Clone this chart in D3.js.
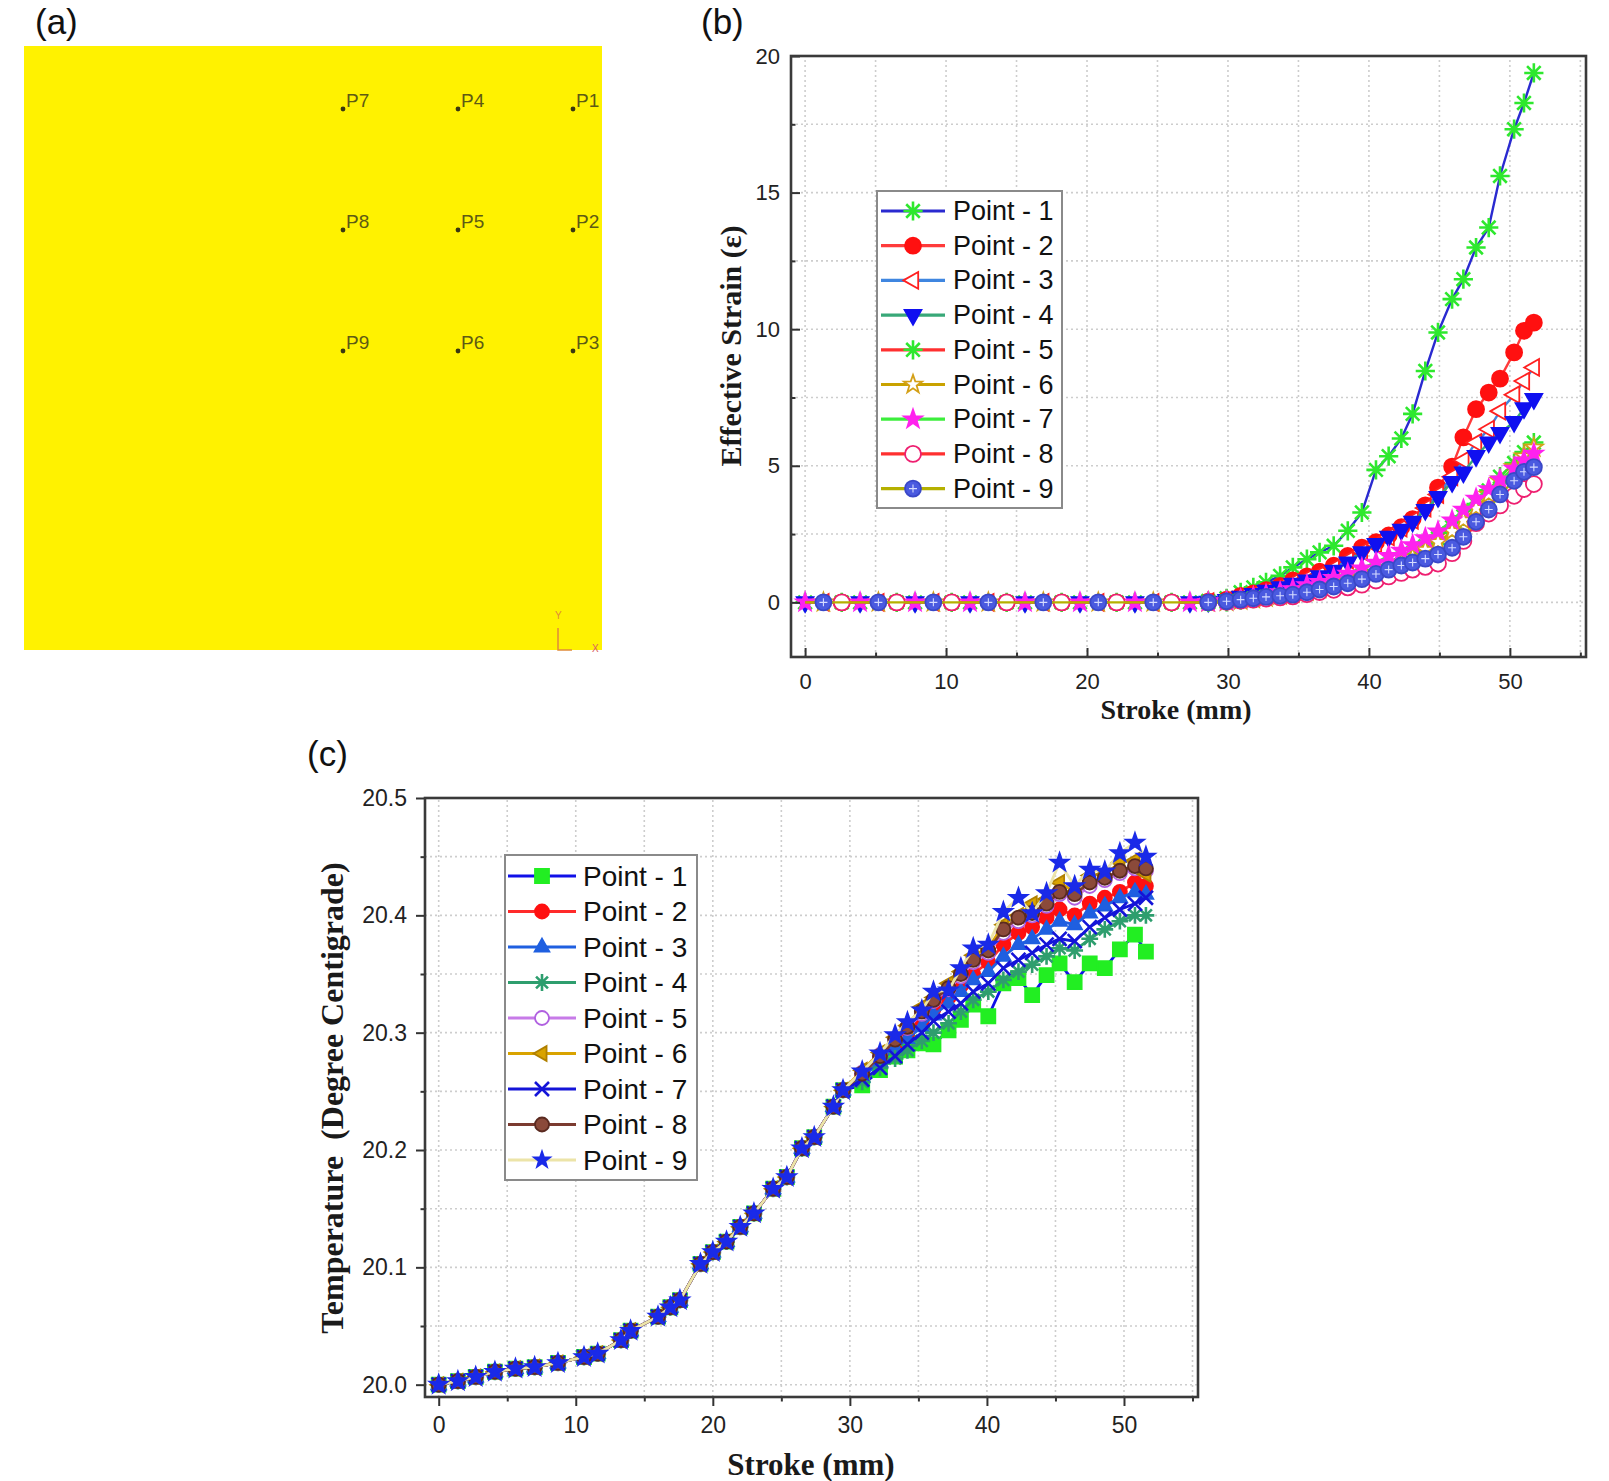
<!DOCTYPE html>
<html>
<head>
<meta charset="utf-8">
<script src="https://cdn.jsdelivr.net/npm/d3@7"></script>
<style>
  body { margin: 0; background: #fff; }
  svg { display: block; }
  .tick text { font-family: "Liberation Sans", Arial, sans-serif; fill: #222; }
  .axt { font-family: "Liberation Serif", "Times New Roman", serif; font-weight: bold; fill: #1a1a1a; white-space: pre; }
  .lab { font-family: "Liberation Sans", Arial, sans-serif; fill: #111; }
  .leg { font-family: "Liberation Sans", Arial, sans-serif; fill: #111; }
</style>
</head>
<body>
<svg id="fig" width="1609" height="1481"></svg>
<script>
// ---------- datos ----------
const nombres = ['Point - 1', 'Point - 2', 'Point - 3', 'Point - 4', 'Point - 5',
                 'Point - 6', 'Point - 7', 'Point - 8', 'Point - 9'];

// panel (a): etiquetas de los puntos por columna
const columnasA = [['P7', 'P8', 'P9'], ['P4', 'P5', 'P6'], ['P1', 'P2', 'P3']];

// panel (b): Effective Strain vs Stroke
const strokeB = [0, 1.3, 2.6, 3.9, 5.2, 6.5, 7.8, 9.1, 10.4, 11.7, 13.0, 14.3, 15.6, 16.9, 18.2, 19.5,
                 20.8, 22.1, 23.4, 24.7, 26.0, 27.3, 28.6, 29.9, 30.9, 31.8, 32.7, 33.7, 34.6, 35.6,
                 36.5, 37.5, 38.5, 39.5, 40.5, 41.4, 42.3, 43.1, 44.0, 44.9, 45.9, 46.7, 47.6, 48.5,
                 49.3, 50.3, 51.0, 51.7];
const strainPlano = [0, 0, 0, 0, 0, 0, 0, 0, 0, 0, 0, 0, 0, 0, 0, 0, 0, 0, 0, 0, 0, 0];
const strainP1 = strainPlano.concat([0.05, 0.15, 0.37, 0.55, 0.73, 0.97, 1.28, 1.58, 1.83, 2.07, 2.62, 3.29,
  4.85, 5.35, 6.0, 6.9, 8.47, 9.88, 11.1, 11.83, 12.99, 13.72, 15.61, 17.32, 18.28, 19.38]);
const strainP2 = strainPlano.concat([0.03, 0.1, 0.24, 0.33, 0.45, 0.6, 0.8, 0.95, 1.12, 1.34, 1.7, 2.0,
  2.2, 2.45, 2.75, 3.05, 3.55, 4.2, 4.97, 6.04, 7.07, 7.68, 8.19, 9.15, 9.94, 10.24]);
const strainP3 = strainPlano.concat([0.02, 0.08, 0.2, 0.3, 0.42, 0.56, 0.72, 0.88, 1.02, 1.25, 1.55, 1.85,
  2.12, 2.4, 2.72, 3.0, 3.45, 3.95, 4.6, 5.2, 5.85, 6.34, 7.0, 7.6, 8.1, 8.6]);
const strainP4 = strainPlano.concat([0.02, 0.08, 0.2, 0.3, 0.42, 0.55, 0.68, 0.8, 0.95, 1.15, 1.46, 1.83,
  2.13, 2.4, 2.65, 2.95, 3.38, 3.85, 4.4, 4.75, 5.35, 5.85, 6.2, 6.6, 7.1, 7.44]);
const strainP5 = strainPlano.concat([0, 0.02, 0.08, 0.14, 0.2, 0.28, 0.36, 0.45, 0.55, 0.68, 0.82, 0.98,
  1.15, 1.35, 1.55, 1.78, 2.05, 2.35, 2.75, 3.15, 3.6, 4.1, 4.6, 5.1, 5.5, 5.85]);
const strainP6 = strainPlano.concat([0, 0.02, 0.07, 0.12, 0.18, 0.25, 0.32, 0.4, 0.5, 0.62, 0.75, 0.9,
  1.05, 1.25, 1.45, 1.65, 1.92, 2.2, 2.6, 3.0, 3.45, 3.95, 4.45, 4.95, 5.35, 5.67]);
const strainP7 = strainPlano.concat([0.01, 0.05, 0.12, 0.2, 0.28, 0.38, 0.49, 0.63, 0.75, 0.9, 1.05, 1.25,
  1.46, 1.7, 1.9, 2.1, 2.35, 2.6, 3.0, 3.4, 3.8, 4.15, 4.5, 4.9, 5.2, 5.45]);
const strainP8 = strainPlano.concat([0, 0.02, 0.06, 0.1, 0.14, 0.18, 0.22, 0.3, 0.38, 0.46, 0.55, 0.65,
  0.8, 0.95, 1.08, 1.2, 1.3, 1.42, 1.8, 2.25, 2.9, 3.25, 3.55, 3.9, 4.15, 4.33]);
const strainP9 = strainPlano.concat([0, 0.04, 0.1, 0.15, 0.2, 0.24, 0.28, 0.37, 0.47, 0.58, 0.7, 0.85,
  1.04, 1.2, 1.35, 1.46, 1.6, 1.75, 2.0, 2.4, 2.95, 3.4, 3.95, 4.45, 4.78, 4.95]);
const strainB = [strainP1, strainP2, strainP3, strainP4, strainP5, strainP6, strainP7, strainP8, strainP9];
const ticksXB = [0, 10, 20, 30, 40, 50];
const ticksYB = [0, 5, 10, 15, 20];

// panel (c): Temperature vs Stroke
const strokeC = [0, 1.4, 2.7, 4.1, 5.6, 7.0, 8.7, 10.6, 11.6, 13.3, 14.0, 16.0, 16.9, 17.6, 19.1, 20.0,
                 21.0, 22.0, 23.0, 24.4, 25.4, 26.5, 27.4, 28.8, 29.5, 30.9, 32.2, 33.3, 34.2, 35.25,
                 36.1, 37.2, 38.1, 39.0, 40.1, 41.2, 42.3, 43.3, 44.35, 45.3, 46.4, 47.5, 48.6, 49.7,
                 50.8, 51.6];
const tempComun = [20.000, 20.003, 20.0066, 20.011, 20.0137, 20.015, 20.0185, 20.0236, 20.0265, 20.038,
                   20.046, 20.058, 20.066, 20.072, 20.103, 20.113, 20.122, 20.1345, 20.146, 20.167,
                   20.177, 20.2015, 20.211, 20.237, 20.251];
const tempP1 = tempComun.concat([20.255, 20.268, 20.2796, 20.285, 20.291, 20.29, 20.302, 20.311, 20.324, 20.314,
  20.342, 20.3465, 20.332, 20.349, 20.359, 20.343, 20.359, 20.355, 20.371, 20.3835, 20.369]);
const tempP2 = tempComun.concat([20.264, 20.278, 20.29, 20.3, 20.31, 20.32, 20.33, 20.34, 20.35, 20.36,
  20.375, 20.385, 20.39, 20.398, 20.405, 20.4, 20.41, 20.415, 20.42, 20.428, 20.425]);
const tempP3 = tempComun.concat([20.262, 20.275, 20.287, 20.295, 20.305, 20.315, 20.325, 20.335, 20.345, 20.352,
  20.365, 20.375, 20.38, 20.388, 20.395, 20.392, 20.402, 20.408, 20.415, 20.42, 20.418]);
const tempP4 = tempComun.concat([20.258, 20.27, 20.278, 20.285, 20.293, 20.3, 20.308, 20.318, 20.328, 20.335,
  20.345, 20.352, 20.358, 20.365, 20.372, 20.37, 20.38, 20.388, 20.395, 20.4, 20.4]);
const tempP5 = tempComun.concat([20.266, 20.281, 20.295, 20.304, 20.316, 20.327, 20.337, 20.348, 20.36, 20.368,
  20.385, 20.395, 20.4, 20.408, 20.418, 20.415, 20.425, 20.43, 20.436, 20.44, 20.438]);
const tempP6 = tempComun.concat([20.268, 20.283, 20.296, 20.306, 20.322, 20.33, 20.342, 20.352, 20.366, 20.372,
  20.392, 20.4, 20.41, 20.414, 20.428, 20.42, 20.434, 20.435, 20.445, 20.447, 20.435]);
const tempP7 = tempComun.concat([20.26, 20.27, 20.28, 20.29, 20.3, 20.31, 20.318, 20.325, 20.335, 20.342,
  20.355, 20.362, 20.368, 20.375, 20.38, 20.378, 20.39, 20.398, 20.405, 20.41, 20.415]);
const tempP8 = tempComun.concat([20.265, 20.28, 20.294, 20.305, 20.318, 20.328, 20.338, 20.35, 20.362, 20.37,
  20.388, 20.398, 20.402, 20.41, 20.42, 20.418, 20.428, 20.432, 20.438, 20.442, 20.44]);
const tempP9 = tempComun.concat([20.267, 20.2825, 20.298, 20.309, 20.319, 20.335, 20.336, 20.355, 20.372, 20.375,
  20.403, 20.415, 20.402, 20.419, 20.445, 20.425, 20.439, 20.4375, 20.453, 20.462, 20.45]);
const tempC = [tempP1, tempP2, tempP3, tempP4, tempP5, tempP6, tempP7, tempP8, tempP9];
const ticksXC = [0, 10, 20, 30, 40, 50];
const ticksYC = [20.0, 20.1, 20.2, 20.3, 20.4, 20.5];

// ---------- estilos ----------
const estiloB = [
  { linea: '#2a2ad0', forma: 'ast',        relleno: 'none',    borde: '#2ee82e' },
  { linea: '#ff3b3b', forma: 'circle',     relleno: '#ff1010', borde: '#ff1010' },
  { linea: '#3f86e0', forma: 'triLeft',    relleno: '#ffffff', borde: '#ff2020' },
  { linea: '#38a878', forma: 'triDown',    relleno: '#1010f0', borde: '#1010f0' },
  { linea: '#ff3030', forma: 'ast',        relleno: 'none',    borde: '#2ee82e' },
  { linea: '#c9a200', forma: 'star',       relleno: '#ffffff', borde: '#d4a017' },
  { linea: '#3cee3c', forma: 'star',       relleno: '#ff22ee', borde: '#ff22ee' },
  { linea: '#ff3030', forma: 'circle',     relleno: '#ffffff', borde: '#ee1f70' },
  { linea: '#b5b000', forma: 'circlePlus', relleno: '#4a5ae0', borde: '#3a48c8' }
];
const estiloC = [
  { linea: '#1010e8', forma: 'square',  relleno: '#22ee22', borde: '#22ee22' },
  { linea: '#ff2a2a', forma: 'circle',  relleno: '#ff1010', borde: '#ff1010' },
  { linea: '#1f5fe0', forma: 'triUp',   relleno: '#1f5fe0', borde: '#1f5fe0' },
  { linea: '#2e9e6e', forma: 'ast',     relleno: 'none',    borde: '#2e9e6e' },
  { linea: '#c77be8', forma: 'circle',  relleno: '#ffffff', borde: '#b060e0' },
  { linea: '#d9a300', forma: 'triLeft', relleno: '#d9a300', borde: '#b08000' },
  { linea: '#1414d8', forma: 'x',       relleno: 'none',    borde: '#1414d8' },
  { linea: '#7b3b30', forma: 'circle',  relleno: '#8b4a3a', borde: '#5a2a20' },
  { linea: '#ece4a8', forma: 'star',    relleno: '#1a2ae8', borde: '#1a2ae8' }
];

const svg = d3.select('#fig');
svg.append('rect').attr('width', 1609).attr('height', 1481).attr('fill', '#fff');

function simbolo(forma, r) {
  const p = d3.path();
  if (forma === 'circle' || forma === 'circlePlus') { p.moveTo(r, 0); p.arc(0, 0, r, 0, 2 * Math.PI); }
  else if (forma === 'square') p.rect(-r, -r, 2 * r, 2 * r);
  else if (forma === 'triUp') { p.moveTo(0, -r * 1.2); p.lineTo(r * 1.05, r * 0.65); p.lineTo(-r * 1.05, r * 0.65); p.closePath(); }
  else if (forma === 'triDown') { p.moveTo(0, r * 1.2); p.lineTo(r * 1.05, -r * 0.65); p.lineTo(-r * 1.05, -r * 0.65); p.closePath(); }
  else if (forma === 'triLeft') { p.moveTo(-r * 1.2, 0); p.lineTo(r * 0.65, -r * 1.05); p.lineTo(r * 0.65, r * 1.05); p.closePath(); }
  else if (forma === 'star') {
    for (let k = 0; k < 10; k++) {
      const a = -Math.PI / 2 + k * Math.PI / 5;
      const rr = k % 2 ? r * 0.48 : r * 1.2;
      if (k === 0) p.moveTo(rr * Math.cos(a), rr * Math.sin(a)); else p.lineTo(rr * Math.cos(a), rr * Math.sin(a));
    }
    p.closePath();
  }
  else if (forma === 'ast') {
    for (let k = 0; k < 4; k++) {
      const a = k * Math.PI / 4;
      p.moveTo(r * Math.cos(a), r * Math.sin(a)); p.lineTo(-r * Math.cos(a), -r * Math.sin(a));
    }
  }
  else if (forma === 'x') { p.moveTo(-r, -r); p.lineTo(r, r); p.moveTo(r, -r); p.lineTo(-r, r); }
  else if (forma === 'plus') { p.moveTo(-r, 0); p.lineTo(r, 0); p.moveTo(0, -r); p.lineTo(0, r); }
  return p.toString();
}

function marcador(g, est, cx, cy, r) {
  const abierto = est.forma === 'ast' || est.forma === 'x';
  const rr = est.forma === 'ast' ? r * 1.2 : r;
  g.append('path')
    .attr('transform', `translate(${cx},${cy})`)
    .attr('d', simbolo(est.forma, rr))
    .attr('fill', abierto ? 'none' : est.relleno)
    .attr('stroke', est.borde)
    .attr('stroke-width', abierto ? 2.6 : 1.8);
  if (est.forma === 'circlePlus') {
    g.append('path')
      .attr('transform', `translate(${cx},${cy})`)
      .attr('d', simbolo('plus', r * 0.5))
      .attr('fill', 'none').attr('stroke', '#d6dcff').attr('stroke-width', 1.1);
  }
}

function rejilla(g, x, y, xs, ys) {
  g.selectAll(null).data(xs).join('line')
    .attr('x1', d => x(d)).attr('x2', d => x(d))
    .attr('y1', y.range()[0]).attr('y2', y.range()[1])
    .attr('stroke', '#cdcdcd').attr('stroke-width', 1.6).attr('stroke-dasharray', '2,3');
  g.selectAll(null).data(ys).join('line')
    .attr('y1', d => y(d)).attr('y2', d => y(d))
    .attr('x1', x.range()[0]).attr('x2', x.range()[1])
    .attr('stroke', '#cdcdcd').attr('stroke-width', 1.6).attr('stroke-dasharray', '2,3');
}

function ejes(x, y, xMay, xMen, yMay, yMen, largo, fs, padX, padY, fmtY) {
  const abajo = y.range()[0], izq = x.range()[0];
  const gx = svg.append('g').attr('transform', `translate(0,${abajo})`)
    .call(d3.axisBottom(x).tickValues(xMay).tickSize(largo).tickPadding(padX).tickFormat(d3.format('d')));
  const gxm = svg.append('g').attr('transform', `translate(0,${abajo})`)
    .call(d3.axisBottom(x).tickValues(xMen).tickSize(largo / 2).tickFormat(''));
  const gy = svg.append('g').attr('transform', `translate(${izq},0)`)
    .call(d3.axisLeft(y).tickValues(yMay).tickSize(largo).tickPadding(padY).tickFormat(fmtY));
  const gym = svg.append('g').attr('transform', `translate(${izq},0)`)
    .call(d3.axisLeft(y).tickValues(yMen).tickSize(largo / 2).tickFormat(''));
  [gx, gxm, gy, gym].forEach(g => {
    g.select('.domain').remove();
    g.selectAll('.tick line').attr('stroke', '#333').attr('stroke-width', 2);
    g.selectAll('.tick text').style('font-size', fs + 'px');
  });
  svg.append('rect')
    .attr('x', x.range()[0]).attr('y', y.range()[1])
    .attr('width', x.range()[1] - x.range()[0]).attr('height', y.range()[0] - y.range()[1])
    .attr('fill', 'none').attr('stroke', '#3a3a3a').attr('stroke-width', 2.6);
}

function leyenda(estilos, x0, y0, w, h, primera, paso, l1, l2, tx, fs, r) {
  const g = svg.append('g');
  g.append('rect').attr('x', x0).attr('y', y0).attr('width', w).attr('height', h)
    .attr('fill', '#fff').attr('stroke', '#8a8a8a').attr('stroke-width', 2);
  nombres.forEach((n, i) => {
    const yy = primera + i * paso;
    g.append('line').attr('x1', l1).attr('x2', l2).attr('y1', yy).attr('y2', yy)
      .attr('stroke', estilos[i].linea).attr('stroke-width', 3.2);
    marcador(g, estilos[i], (l1 + l2) / 2, yy, r);
    g.append('text').attr('class', 'leg').attr('x', tx).attr('y', yy)
      .attr('dominant-baseline', 'central').style('font-size', fs + 'px').text(n);
  });
}

// ---------- panel (a) ----------
svg.append('text').attr('class', 'lab').attr('x', 35).attr('y', 34).style('font-size', '35px').text('(a)');
svg.append('rect').attr('x', 24).attr('y', 46).attr('width', 578).attr('height', 604).attr('fill', '#fff200');
const colA = d3.scalePoint().domain([0, 1, 2]).range([346, 576]);
const filA = d3.scalePoint().domain([0, 1, 2]).range([107, 349]);
columnasA.forEach((col, c) => col.forEach((et, f) => {
  svg.append('circle').attr('cx', colA(c) - 3).attr('cy', filA(f) + 2).attr('r', 2.4).attr('fill', '#3a3710');
  svg.append('text').attr('class', 'lab').attr('x', colA(c)).attr('y', filA(f))
    .style('font-size', '19px').style('fill', '#5e5a14').text(et);
}));
// ejes locales (triada)
svg.append('text').attr('x', 555).attr('y', 619).style('font-size', '10px')
  .style('font-family', 'Liberation Sans, Arial').style('fill', '#e08a3a').text('Y');
svg.append('path').attr('d', 'M558,628 L558,650 L572,650').attr('fill', 'none')
  .attr('stroke', '#e08a3a').attr('stroke-width', 1.5);
svg.append('text').attr('x', 592).attr('y', 652).style('font-size', '10px')
  .style('font-family', 'Liberation Sans, Arial').style('fill', '#d86060').text('X');

// ---------- panel (b) ----------
const xB = d3.scaleLinear().domain([-1, 55.4]).range([791, 1586]);
const yB = d3.scaleLinear().domain([-2, 20]).range([657, 56]);
svg.append('text').attr('class', 'lab').attr('x', 701).attr('y', 34).style('font-size', '35px').text('(b)');
rejilla(svg.append('g'), xB, yB, [0, 5, 10, 15, 20, 25, 30, 35, 40, 45, 50, 55], [0, 2.5, 5, 7.5, 10, 12.5, 15, 17.5]);

const trazoB = d3.line().x(d => xB(d[0])).y(d => yB(d[1]));
strainB.forEach((serie, i) => {
  const pts = d3.zip(strokeB, serie);
  const g = svg.append('g');
  g.append('path').attr('d', trazoB(pts)).attr('fill', 'none')
    .attr('stroke', estiloB[i].linea).attr('stroke-width', 2.4);
  pts.forEach((d, j) => {
    if (j >= 22 || (j + i) % 3 === 0) marcador(g, estiloB[i], xB(d[0]), yB(d[1]), 8);
  });
});
ejes(xB, yB, ticksXB, [5, 15, 25, 35, 45, 55], ticksYB, [2.5, 7.5, 12.5, 17.5], -9, 22, 16, 11, d3.format('d'));
leyenda(estiloB, 877, 191, 185, 317, 211, 34.7, 881, 945, 953, 27, 8);
svg.append('text').attr('class', 'axt').attr('x', 1176).attr('y', 709)
  .attr('text-anchor', 'middle').attr('dominant-baseline', 'central').style('font-size', '28px').text('Stroke (mm)');
svg.append('text').attr('class', 'axt').attr('transform', 'translate(730,346) rotate(-90)')
  .attr('text-anchor', 'middle').attr('dominant-baseline', 'central').style('font-size', '30px').text('Effective Strain (ε)');

// ---------- panel (c) ----------
const xC = d3.scaleLinear().domain([-1, 55.4]).range([425, 1198]);
const yC = d3.scaleLinear().domain([19.9895, 20.5]).range([1397, 798]);
svg.append('text').attr('class', 'lab').attr('x', 307).attr('y', 766).style('font-size', '35px').text('(c)');
rejilla(svg.append('g'), xC, yC, [0, 5, 10, 15, 20, 25, 30, 35, 40, 45, 50, 55],
        [20.0, 20.05, 20.1, 20.15, 20.2, 20.25, 20.3, 20.35, 20.4, 20.45]);

const trazoC = d3.line().x(d => xC(d[0])).y(d => yC(d[1]));
tempC.forEach((serie, i) => {
  const pts = d3.zip(strokeC, serie);
  const g = svg.append('g');
  g.append('path').attr('d', trazoC(pts)).attr('fill', 'none')
    .attr('stroke', estiloC[i].linea).attr('stroke-width', 2.8);
  pts.forEach(d => marcador(g, estiloC[i], xC(d[0]), yC(d[1]), estiloC[i].forma === 'star' ? 8 : 7));
});
ejes(xC, yC, ticksXC, [5, 15, 25, 35, 45, 55], ticksYC, [20.05, 20.15, 20.25, 20.35, 20.45], 9, 23, 11, 9, d3.format('.1f'));
leyenda(estiloC, 505, 855, 192, 325, 876, 35.5, 508, 576, 583, 28, 7);
svg.append('text').attr('class', 'axt').attr('x', 811).attr('y', 1464)
  .attr('text-anchor', 'middle').attr('dominant-baseline', 'central').style('font-size', '31px').text('Stroke (mm)');
svg.append('text').attr('class', 'axt').attr('transform', 'translate(332,1098) rotate(-90)')
  .attr('text-anchor', 'middle').attr('dominant-baseline', 'central').style('font-size', '32px')
  .text('Temperature  (Degree Centigrade)');
</script>
</body>
</html>
